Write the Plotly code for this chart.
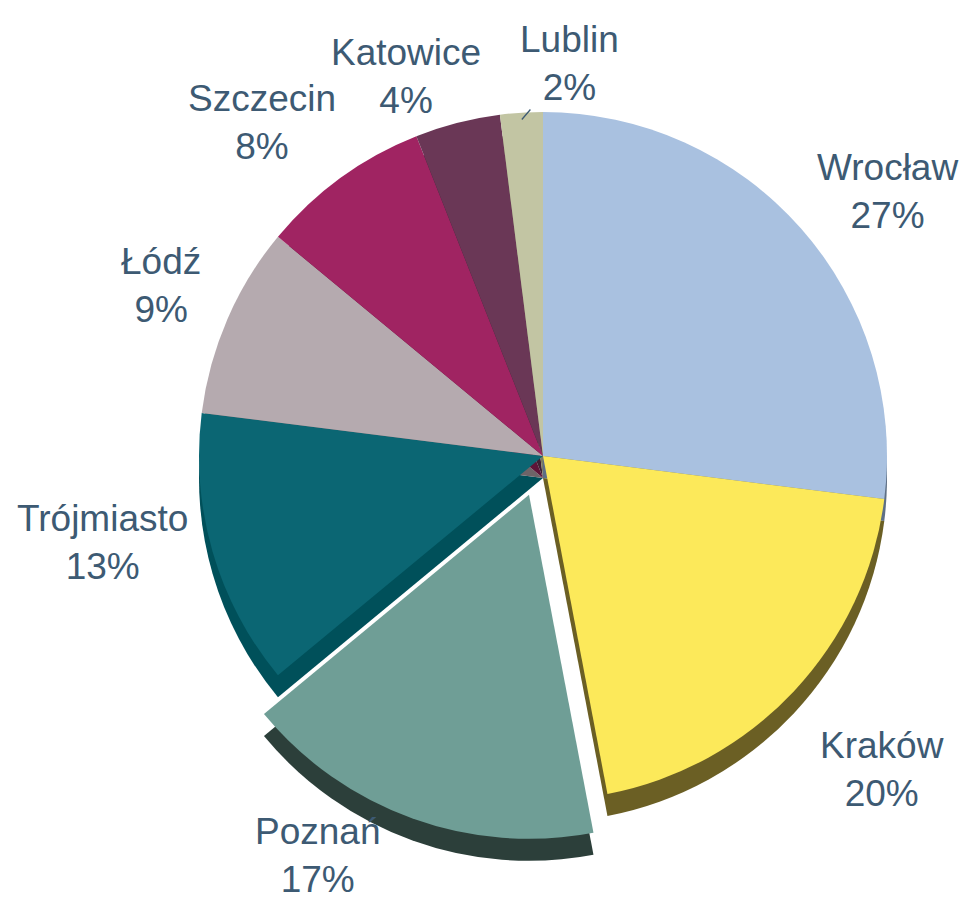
import math
import plotly.graph_objects as go

cities = ["Wrocław", "Kraków", "Poznań", "Trójmiasto", "Łódź", "Szczecin", "Katowice", "Lublin"]
shares = [27, 20, 17, 13, 9, 8, 4, 2]
top_colors = ["#A9C1E0", "#FCE95A", "#6F9E96", "#0B6673", "#B5AAAF", "#A02462", "#6A3756", "#C2C5A3"]
side_colors = ["#5E6F85", "#6B5F24", "#2C3F3A", "#00505A", "#6E6468", "#5E1438", "#3E2033", "#7A7C62"]
pulls = [0, 0, 0.12, 0, 0, 0, 0, 0]

# label placement styles (pixels)
callout = {"Lublin": (48, -56)}          # offset of label from slice edge, with leader line
nudge = {"Poznań": (-62, -16), "Kraków": (18, 40), "Trójmiasto": (-18, -25),
         "Wrocław": (14, 0), "Łódź": (22, -12), "Szczecin": (-22, -10), "Katowice": (-28, 8)}

W, H = 979, 911
PAGE = 8                                  # page body margin in the browser
cx, cy, r = 543 - PAGE, 456 - PAGE, 344
R = r * (1 + max(pulls))
depth = 22
rx, ry = 440, 400
font = dict(family="Liberation Sans, Arial, sans-serif", size=37, color="#3D5A73")


def dom(cx, cy):
    return dict(x=[(cx - R) / W, (cx + R) / W], y=[1 - (cy + R) / H, 1 - (cy - R) / H])


fig = go.Figure()
fig.add_trace(go.Pie(
    labels=cities, values=shares, sort=False, direction="clockwise", rotation=0,
    pull=pulls, textinfo="none", hoverinfo="skip", showlegend=False,
    marker=dict(colors=side_colors, line=dict(width=0)),
    domain=dom(cx, cy + depth),
))
fig.add_trace(go.Pie(
    labels=cities, values=shares, sort=False, direction="clockwise", rotation=0,
    pull=pulls, textinfo="none", showlegend=False,
    marker=dict(colors=top_colors, line=dict(width=0)),
    domain=dom(cx, cy),
))

total = sum(shares)
cum = 0
annotations = []
for name, v, p in zip(cities, shares, pulls):
    mid = (cum + v / 2) / total * 2 * math.pi
    cum += v
    sx, sy = math.sin(mid), -math.cos(mid)
    text = f"{name}<br>{round(100 * v / total)}%"
    if name in callout:
        px_, py_ = cx + sx * r * 0.98, cy + sy * r * 0.98
        ax, ay = callout[name]
        annotations.append(dict(
            x=px_ / W, y=1 - py_ / H, xref="paper", yref="paper", text=text,
            showarrow=True, arrowhead=0, arrowwidth=1.3, arrowcolor="#3D5A73",
            ax=ax, ay=ay, font=font, xanchor="center", yanchor="middle",
        ))
    else:
        nx, ny = nudge.get(name, (0, 0))
        lx = cx + sx * (rx + p * r) + nx
        ly = cy + sy * (ry + p * r) + ny
        annotations.append(dict(
            x=lx / W, y=1 - ly / H, xref="paper", yref="paper", text=text,
            showarrow=False, font=font, xanchor="center", yanchor="middle",
        ))

fig.update_layout(
    width=W, height=H, margin=dict(l=0, r=0, t=0, b=0),
    paper_bgcolor="white", plot_bgcolor="white",
    annotations=annotations,
)
fig.write_html("out.html")
